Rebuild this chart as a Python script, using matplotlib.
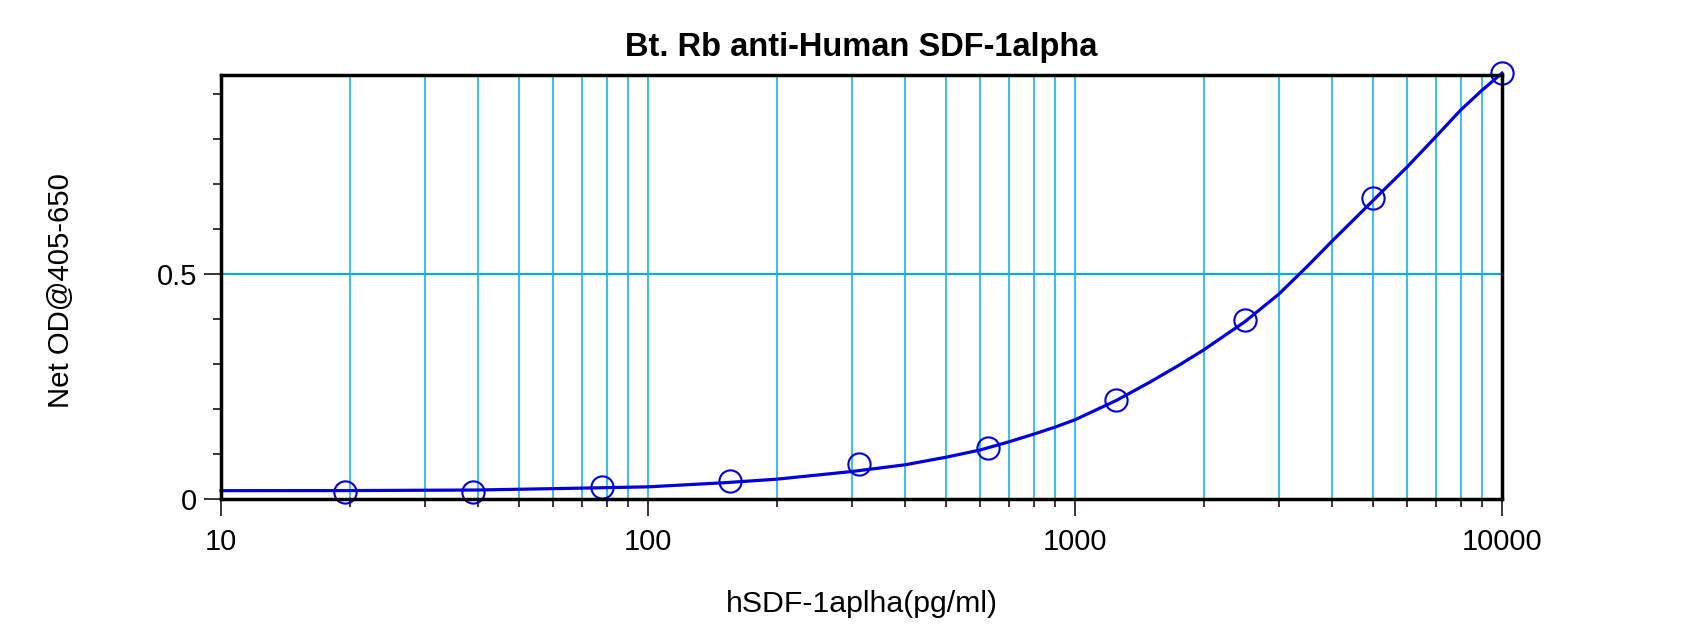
import numpy as np
import matplotlib
matplotlib.use("Agg")
import matplotlib.pyplot as plt
from matplotlib.ticker import FixedLocator, NullFormatter, FixedFormatter

plt.rcParams['font.family'] = ['Liberation Sans', 'DejaVu Sans']

# standards: 2-fold dilution series (pg/ml) and net OD
conc = [19.5, 39, 78, 156, 312.5, 625, 1250, 2500, 5000, 10000]
od = [0.015, 0.015, 0.027, 0.040, 0.077, 0.114, 0.219, 0.398, 0.668, 0.946]

# fitted curve, points
curve_x = [10, 20, 40, 60, 100, 150, 200, 300, 400, 500, 600, 700, 800, 900, 1000,
           1250, 1500, 1750, 2000, 2500, 3000, 3500, 4000, 4500, 5000, 6000, 7000,
           8000, 9000, 10000]
curve_y = [0.0185, 0.0187, 0.020, 0.023, 0.027, 0.036, 0.044, 0.061, 0.076, 0.093,
           0.109, 0.127, 0.144, 0.160, 0.176, 0.219, 0.260, 0.297, 0.331, 0.394,
           0.455, 0.517, 0.573, 0.621, 0.664, 0.738, 0.805, 0.864, 0.909, 0.946]

x_major = [10, 100, 1000, 10000]
x_labels = ["10", "100", "1000", "10000"]
y_major = [0, 0.5]
y_labels = ["0", "0.5"]

GRID = '#00AEEF'
BLUE = '#0000DD'

fig = plt.figure(figsize=(17, 6.4), dpi=100)
ax = fig.add_axes([221 / 1700, 1 - 499 / 640, (1502 - 221) / 1700, (499 - 75) / 640])

ax.set_xscale('log')
ax.set_xlim(10, 10000)
ax.set_ylim(0, 0.942)

# grid: every decade step vertically, only 0.5 horizontally
x_minor = [m * d for d in (10, 100, 1000) for m in range(2, 10)]
for xv in x_minor + x_major[1:-1]:
    ax.axvline(xv, color=GRID, lw=1.1, zorder=1)
ax.axhline(0.5, color=GRID, lw=1.5, zorder=1)

ax.plot(curve_x, curve_y, color=BLUE, lw=2.3, zorder=3, clip_on=False)
ax.plot(conc, od, 'o', ms=16, mfc='none', mec=BLUE, mew=1.5, zorder=4, clip_on=False)

ax.xaxis.set_major_locator(FixedLocator(x_major))
ax.xaxis.set_major_formatter(FixedFormatter(x_labels))
ax.xaxis.set_minor_locator(FixedLocator(x_minor))
ax.xaxis.set_minor_formatter(NullFormatter())
ax.yaxis.set_major_locator(FixedLocator(y_major))
ax.yaxis.set_major_formatter(FixedFormatter(y_labels))
ax.yaxis.set_minor_locator(FixedLocator([0.1, 0.2, 0.3, 0.4, 0.6, 0.7, 0.8, 0.9]))

ax.tick_params(which='major', length=12, width=1.1, direction='out', labelsize=21)
ax.tick_params(which='minor', length=6, width=1.1, direction='out')
ax.tick_params(axis='x', which='major', pad=9)
ax.tick_params(axis='y', which='major', pad=5)

for s in ax.spines.values():
    s.set_linewidth(2.5)
    s.set_zorder(5)

ax.set_title("Bt. Rb anti-Human SDF-1alpha", fontsize=23.5, fontweight='bold', pad=14)
fig.text(862 / 1700, 1 - 604 / 640, "hSDF-1aplha(pg/ml)", fontsize=21.8,
         ha='center', va='center')
fig.text(61 / 1700, 1 - 291 / 640, "Net OD@405-650", fontsize=21.2,
         rotation=90, ha='center', va='center')

fig.savefig("out.png", dpi=100)
